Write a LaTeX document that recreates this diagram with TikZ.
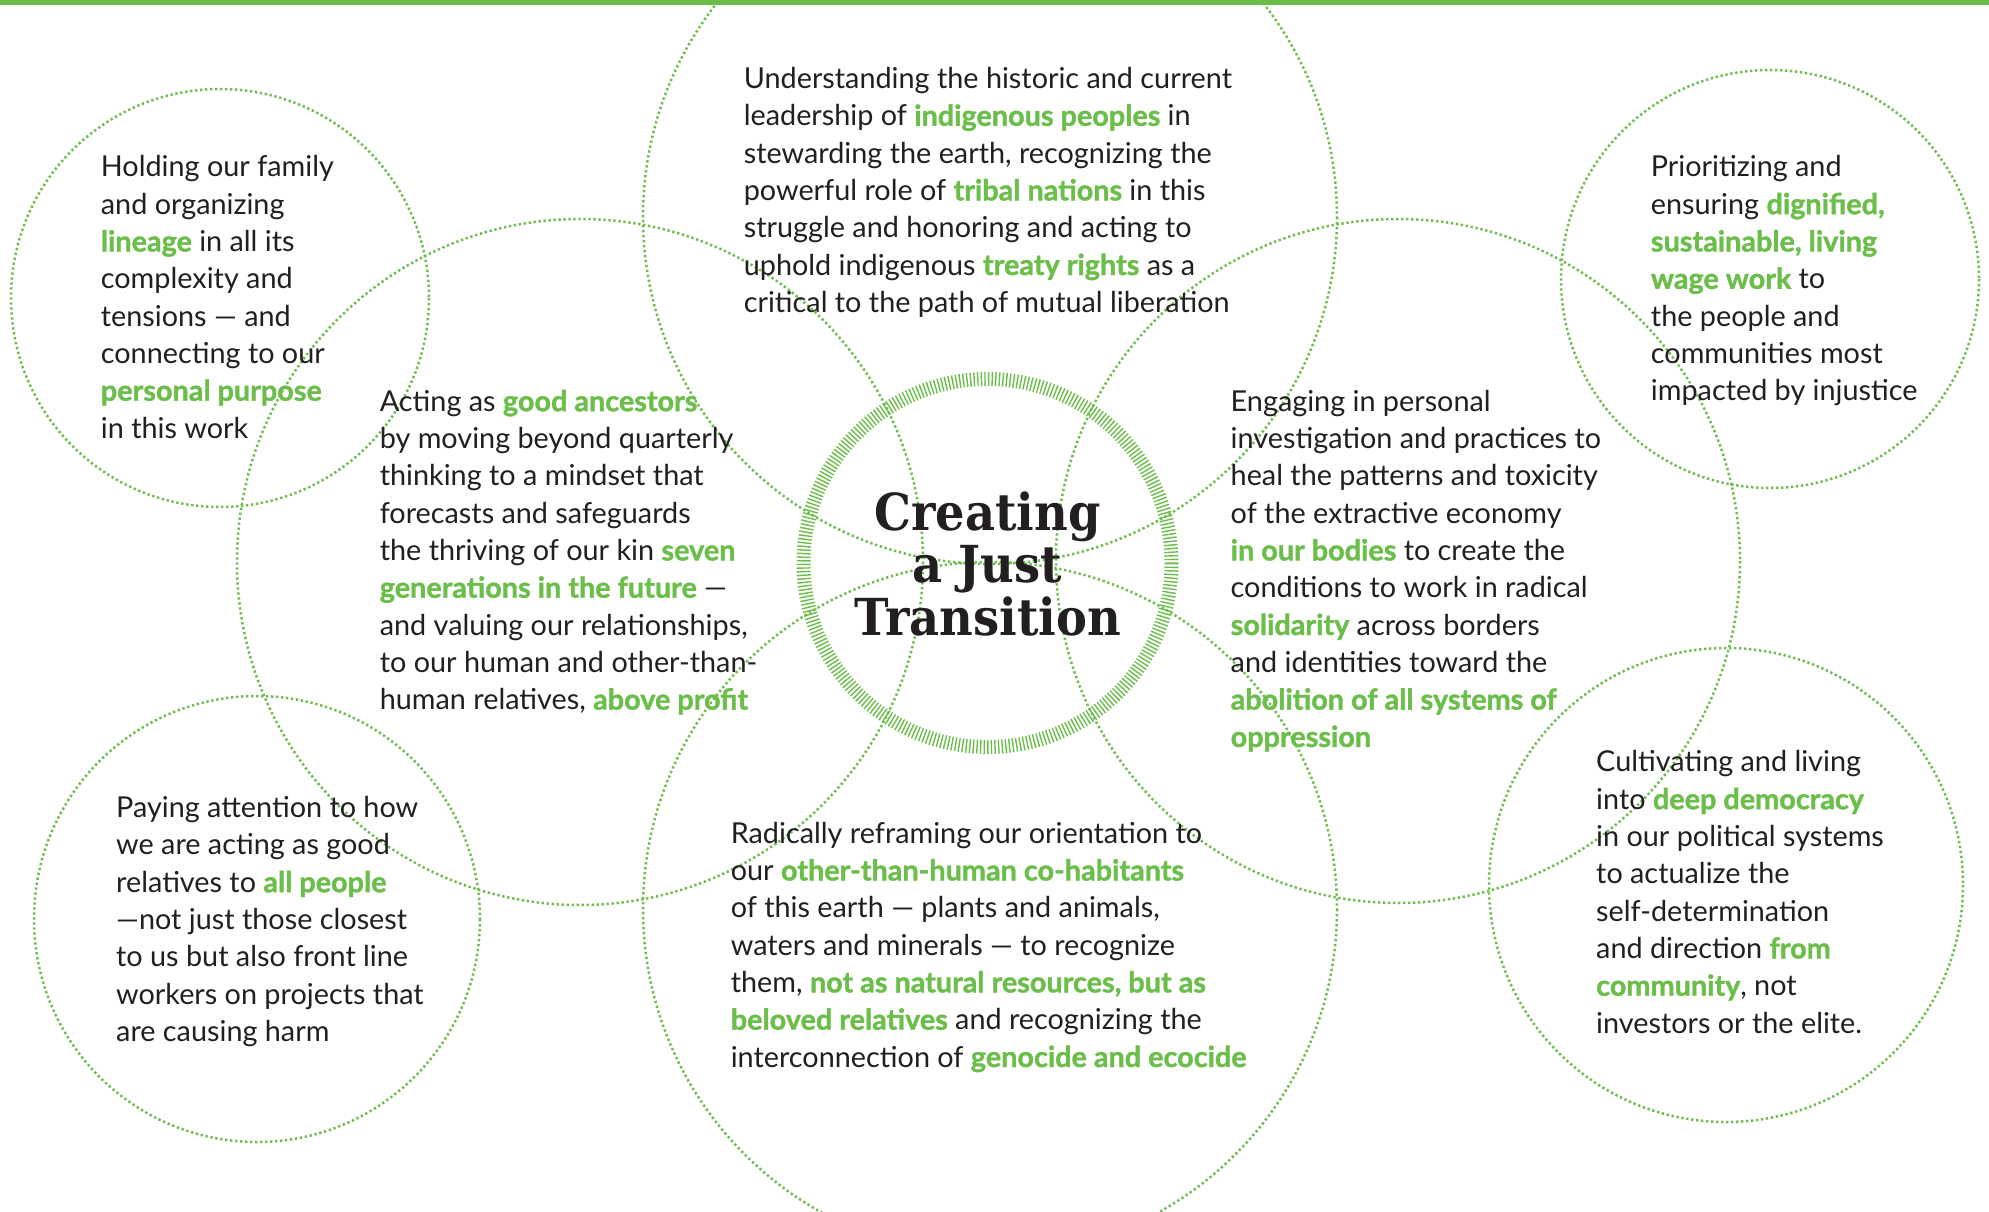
\documentclass[tikz,border=0pt]{standalone}
\usepackage{fontspec}
\setmainfont{Lato}[BoldFeatures={FakeBold=1.3}]
\newfontfamily\titlefont[FakeStretch=0.91]{DejaVu Serif}
\definecolor{jgreen}{HTML}{6CBE4B}
\definecolor{ink}{HTML}{231F20}
\tikzset{
  ring/.style={draw=jgreen, line width=2.5pt, dash pattern=on 2.3pt off 2.7pt},
  hatch/.style={draw=jgreen, line width=14pt, dash pattern=on 1.4pt off 2.2pt},
  txt/.style={anchor=north west, inner sep=0pt, align=left, text=ink,
    font=\fontsize{28.8}{37.3}\selectfont},
  ttl/.style={anchor=north, inner sep=0pt, align=center, text=ink,
    font=\titlefont\bfseries\fontsize{51}{52.5}\selectfont},
}
\newcommand{\hl}[1]{\textbf{\color{jgreen}#1}}
\newcommand{\fs}{\rule{0pt}{30pt}}
\begin{document}
\begin{tikzpicture}[x=1pt,y=-1pt]
\useasboundingbox (0,0) rectangle (1989,1212);
\fill[white] (0,0) rectangle (1989,1212);
\clip (0,0) rectangle (1989,1212);
% top bar
\fill[jgreen] (0,0) rectangle (1989,5);
% big circles
\draw[ring] (990,217) circle[radius=347];
\draw[ring] (990,909) circle[radius=347];
\draw[ring] (580,562) circle[radius=343];
\draw[ring] (1398,561) circle[radius=342];
% small circles
\draw[ring] (220,298) circle[radius=209];
\draw[ring] (1770,279) circle[radius=209];
\draw[ring] (257,919) circle[radius=223];
\draw[ring] (1726,885) circle[radius=237];
% centre ring
\draw[hatch] (987.5,563) circle[radius=184];
% title
\node[ttl] (title) at (987.5,480) {\rule{0pt}{50pt}Creating\\a Just\\Transition};
% texts
\node[txt] (tl) at (100.7,146.7) {\fs Holding our family\\
and organizing\\
\hl{lineage} in all its\\
complexity and\\
tensions — and\\
connecting to our\\
\hl{personal purpose}\\
in this work};
\node[txt] (top) at (743.6,58.3) {\fs Understanding the historic and current\\
leadership of \hl{indigenous peoples} in\\
stewarding the earth, recognizing the\\
powerful role of \hl{tribal nations} in this\\
struggle and honoring and acting to\\
uphold indigenous \hl{treaty rights} as a\\
critical to the path of mutual liberation};
\node[txt] (tr) at (1650.7,146.7) {\fs Prioritizing and\\
ensuring \hl{dignified,}\\
\hl{sustainable, living}\\
\hl{wage work} to\\
the people and\\
communities most\\
impacted by injustice};
\node[txt] (left) at (379.6,381) {\fs Acting as \hl{good ancestors}\\
by moving beyond quarterly\\
thinking to a mindset that\\
forecasts and safeguards\\
the thriving of our kin \hl{seven}\\
\hl{generations in the future} —\\
and valuing our relationships,\\
to our human and other-than-\\
human relatives, \hl{above profit}};
\node[txt] (right) at (1230.5,381) {\fs Engaging in personal\\
investigation and practices to\\
heal the patterns and toxicity\\
of the extractive economy\\
\hl{in our bodies} to create the\\
conditions to work in radical\\
\hl{solidarity} across borders\\
and identities toward the\\
\hl{abolition of all systems of}\\
\hl{oppression}};
\node[txt] (bl) at (116,787.4) {\fs Paying attention to how\\
we are acting as good\\
relatives to \hl{all people}\\
—not just those closest\\
to us but also front line\\
workers on projects that\\
are causing harm};
\node[txt] (bottom) at (730.6,813) {\fs Radically reframing our orientation to\\
our \hl{other-than-human co-habitants}\\
of this earth — plants and animals,\\
waters and minerals — to recognize\\
them, \hl{not as natural resources, but as}\\
\hl{beloved relatives} and recognizing the\\
interconnection of \hl{genocide and ecocide}};
\node[txt] (br) at (1596,741.7) {\fs Cultivating and living\\
into \hl{deep democracy}\\
in our political systems\\
to actualize the\\
self-determination\\
and direction \hl{from}\\
\hl{community}, not\\
investors or the elite.};
\end{tikzpicture}
\end{document}
